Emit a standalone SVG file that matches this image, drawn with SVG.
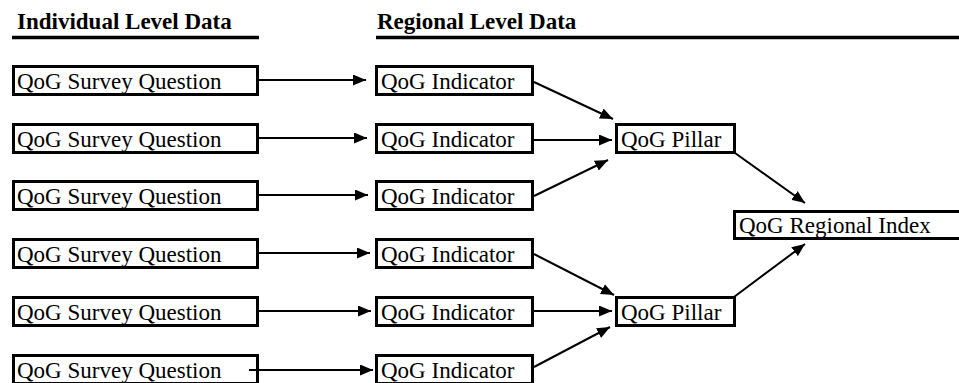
<svg xmlns="http://www.w3.org/2000/svg" width="959" height="383" viewBox="0 0 959 383">
<style>
.box{fill:#fff;stroke:#000;stroke-width:3}
.t{font-family:"Liberation Serif","Times New Roman",serif;font-size:23px;fill:#000}
.h{font-family:"Liberation Serif","Times New Roman",serif;font-size:23px;font-weight:bold;fill:#000}
.c{stroke:#000;stroke-width:2;fill:none;marker-end:url(#ah)}
.rule{stroke:#000;stroke-width:3.5}
</style>
<defs>
<marker id="ah" viewBox="0 0 13 11" refX="13" refY="5.5" markerWidth="13" markerHeight="11" markerUnits="userSpaceOnUse" orient="auto">
<path d="M0,0 L13,5.5 L0,11 Z" fill="#000"/>
</marker>
</defs>
<rect width="959" height="383" fill="#fff"/>
<g id="header-individual">
<text class="h" x="17" y="29">Individual Level Data</text>
<line class="rule" x1="12" y1="37.5" x2="259" y2="37.5"/>
</g>
<g id="header-regional">
<text class="h" x="377" y="29">Regional Level Data</text>
<line class="rule" x1="376" y1="37.5" x2="959" y2="37.5"/>
</g>
<g id="sq1"><rect class="box" x="13.5" y="66.5" width="244" height="28"/><text class="t" x="17" y="89">QoG Survey Question</text></g>
<g id="sq2"><rect class="box" x="13.5" y="124.5" width="244" height="28"/><text class="t" x="17" y="147">QoG Survey Question</text></g>
<g id="sq3"><rect class="box" x="13.5" y="181.5" width="244" height="28"/><text class="t" x="17" y="204">QoG Survey Question</text></g>
<g id="sq4"><rect class="box" x="13.5" y="239.5" width="244" height="28"/><text class="t" x="17" y="262">QoG Survey Question</text></g>
<g id="sq5"><rect class="box" x="13.5" y="297.5" width="244" height="28"/><text class="t" x="17" y="320">QoG Survey Question</text></g>
<g id="sq6"><rect class="box" x="13.5" y="355.5" width="244" height="28"/><text class="t" x="17" y="378">QoG Survey Question</text></g>
<g id="ind1"><rect class="box" x="376.5" y="66.5" width="156" height="28"/><text class="t" x="381" y="89">QoG Indicator</text></g>
<g id="ind2"><rect class="box" x="376.5" y="124.5" width="156" height="28"/><text class="t" x="381" y="147">QoG Indicator</text></g>
<g id="ind3"><rect class="box" x="376.5" y="181.5" width="156" height="28"/><text class="t" x="381" y="204">QoG Indicator</text></g>
<g id="ind4"><rect class="box" x="376.5" y="239.5" width="156" height="28"/><text class="t" x="381" y="262">QoG Indicator</text></g>
<g id="ind5"><rect class="box" x="376.5" y="297.5" width="156" height="28"/><text class="t" x="381" y="320">QoG Indicator</text></g>
<g id="ind6"><rect class="box" x="376.5" y="355.5" width="156" height="28"/><text class="t" x="381" y="378">QoG Indicator</text></g>
<g id="pillar1"><rect class="box" x="616.5" y="124.5" width="118" height="28"/><text class="t" x="621" y="147">QoG Pillar</text></g>
<g id="pillar2"><rect class="box" x="616.5" y="297.5" width="118" height="28"/><text class="t" x="621" y="320">QoG Pillar</text></g>
<g id="index"><rect class="box" x="734.5" y="211.5" width="240" height="27"/><text class="t" x="739" y="233">QoG Regional Index</text></g>
<g id="connectors">
<line class="c" x1="259" y1="80" x2="366" y2="80"/>
<line class="c" x1="259" y1="138" x2="367" y2="138"/>
<line class="c" x1="259" y1="195" x2="368" y2="195"/>
<line class="c" x1="257" y1="253" x2="370" y2="253"/>
<line class="c" x1="257" y1="311" x2="371" y2="311"/>
<line class="c" x1="249" y1="370" x2="373" y2="370"/>
<line class="c" x1="534" y1="82" x2="613" y2="119"/>
<line class="c" x1="534" y1="140" x2="612" y2="140"/>
<line class="c" x1="534" y1="196" x2="608" y2="160"/>
<line class="c" x1="534" y1="254" x2="614" y2="295"/>
<line class="c" x1="534" y1="311" x2="612" y2="311"/>
<line class="c" x1="534" y1="367" x2="610" y2="327"/>
<line class="c" x1="735" y1="153" x2="805" y2="203"/>
<line class="c" x1="734" y1="297" x2="805" y2="244"/>
</g>
</svg>
